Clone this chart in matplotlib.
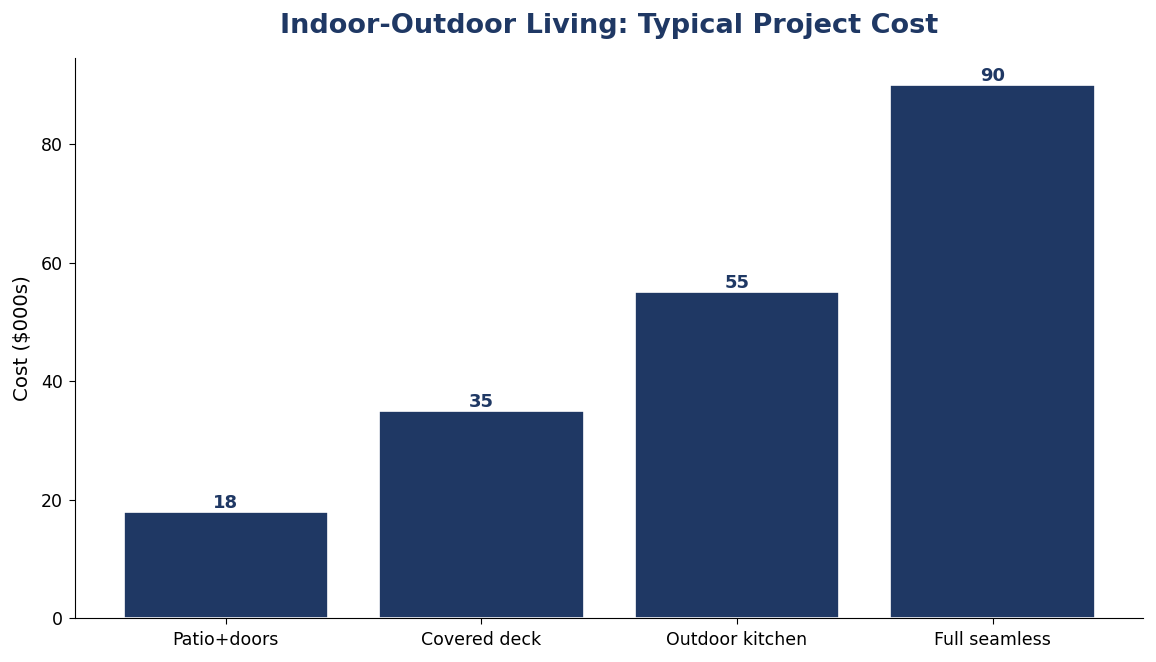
import matplotlib
matplotlib.use("Agg")
import matplotlib.pyplot as plt

# data
categories = ["Patio+doors", "Covered deck", "Outdoor kitchen", "Full seamless"]
costs = [18, 35, 55, 90]

navy = "#1f3864"

fig, ax = plt.subplots(figsize=(11.56, 6.62), dpi=100)
bars = ax.bar(categories, costs, width=0.8, color=navy, edgecolor="white", linewidth=1.2)

# value labels on top of the bars
for b, v in zip(bars, costs):
    ax.text(b.get_x() + b.get_width() / 2, v, str(v), ha="center", va="bottom",
            fontsize=13, fontweight="bold", color=navy)

ax.set_title("Indoor-Outdoor Living: Typical Project Cost", fontsize=19.5,
             fontweight="bold", color=navy, pad=18)
ax.set_ylabel("Cost ($000s)", fontsize=14.2, labelpad=6)
ax.tick_params(labelsize=12.5, length=4.5, pad=4.5)
ax.spines["top"].set_visible(False)
ax.spines["right"].set_visible(False)

plt.subplots_adjust(left=0.065, right=0.989, top=0.912, bottom=0.066)
plt.savefig("out.png", dpi=100)
